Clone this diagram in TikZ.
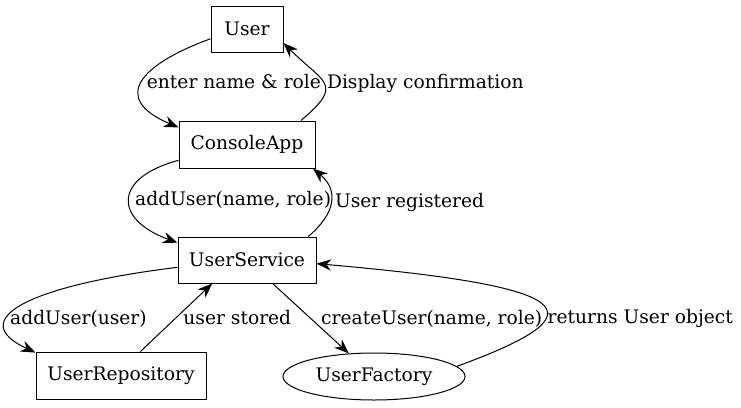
\documentclass[tikz,border=0pt]{standalone}
\usepackage{fontspec}
\setmainfont{DejaVu Serif}
\usetikzlibrary{arrows.meta,shapes.geometric}

\begin{document}
\begin{tikzpicture}[x=0.75pt, y=0.75pt, line width=0.75pt,
    box/.style={draw, rectangle, inner sep=0pt, font=\fontsize{14}{17}\selectfont},
    oval/.style={draw, ellipse, inner sep=0pt, font=\fontsize{14}{17}\selectfont},
    msg/.style={-{Stealth[length=11pt,width=8.5pt,inset=3.5pt]}},
    lbl/.style={anchor=west, inner sep=0pt, font=\fontsize{14}{17}\selectfont}]
    \useasboundingbox (0,0) rectangle (741,-407);

    \node[box, minimum width=54pt, minimum height=34.5pt] (User) at (247,-29) {User};
    \node[box, minimum width=102pt, minimum height=35.25pt] (ConsoleApp) at (247,-144.5) {ConsoleApp};
    \node[box, minimum width=103.5pt, minimum height=34.5pt] (UserService) at (247,-260) {UserService};
    \node[box, minimum width=127.5pt, minimum height=35.25pt] (UserRepository) at (121,-375.5) {UserRepository};
    \node[oval, minimum width=136.5pt, minimum height=35.25pt] (UserFactory) at (374,-376.5) {UserFactory};

    \draw[msg] (User.195) to[out=200, in=157, distance=56pt]
        node[lbl, pos=0.5, xshift=3pt] {enter name \& role} (ConsoleApp.166);
    \draw[msg] (ConsoleApp.24) to[out=40, in=-45, distance=43pt]
        node[lbl, pos=0.5, xshift=2pt] {Display confirmation} (User.-21);
    \draw[msg] (ConsoleApp.193) to[out=195, in=160, distance=51pt]
        node[lbl, pos=0.5, xshift=4pt] {addUser(name, role)} (UserService.166);
    \draw[msg] (UserService.21) to[out=40, in=-40, distance=26pt]
        node[lbl, pos=0.5, xshift=3pt] {User registered} (ConsoleApp.-20);

    \draw[msg] (UserService.186) to[out=187, in=155, out distance=114pt, in distance=58pt]
        node[lbl, pos=0.65, xshift=1pt] {addUser(user)} (UserRepository.165);
    \draw[msg] (UserRepository.51) -- node[lbl, pos=0.5, xshift=5pt] {user stored} (UserService.214);
    \draw[msg] (UserService) -- node[lbl, pos=0.5, xshift=7.5pt] {createUser(name, role)} (UserFactory);
    \draw[msg] (UserFactory.7) to[out=20, in=-5, out distance=120pt, in distance=195pt]
        node[lbl, pos=0.35, xshift=1pt] {returns User object} (UserService.-3);
\end{tikzpicture}
\end{document}
